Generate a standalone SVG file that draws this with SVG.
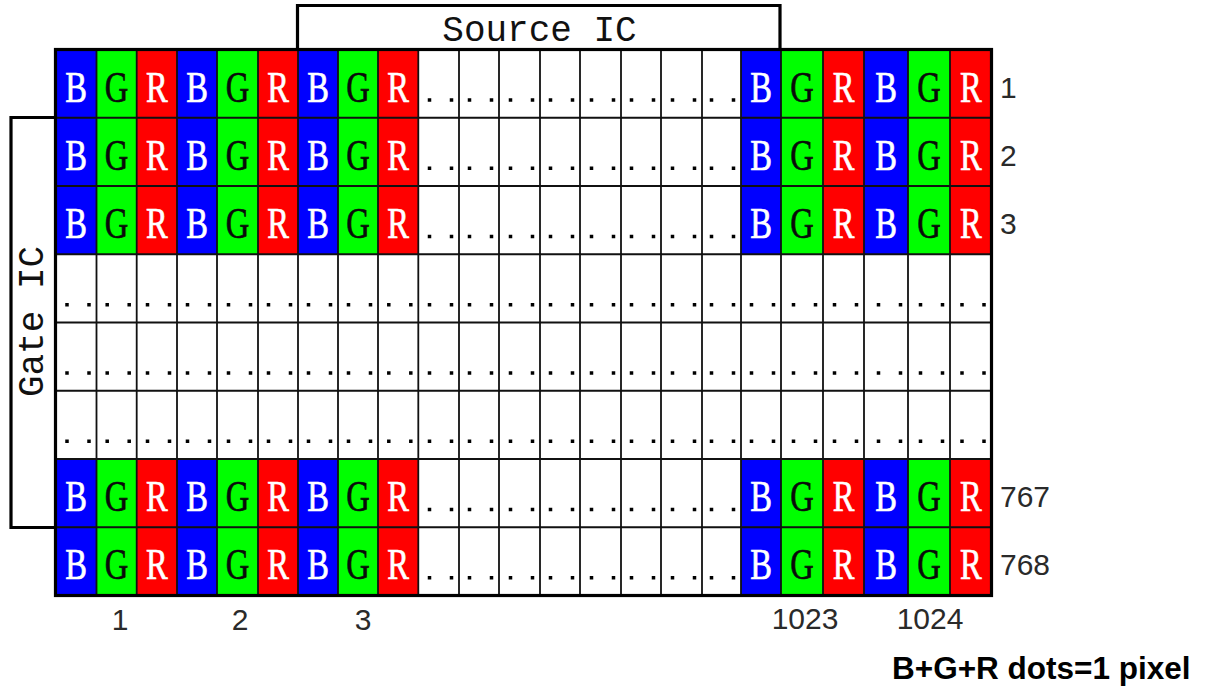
<svg xmlns="http://www.w3.org/2000/svg" xmlns:xlink="http://www.w3.org/1999/xlink" width="1216" height="689" viewBox="0 0 1216 689">
<style>
.b{fill:#0000ff}.g{fill:#00ff00}.r{fill:#ff0000}
.L{font-family:"Liberation Serif","Times New Roman",serif;font-size:44px;text-anchor:middle;stroke-width:0.7}
.lw{fill:#ffffff;stroke:#ffffff}.lk{fill:#0a0a0a;stroke:#0a0a0a}
.grid{fill:none;stroke:#111;stroke-width:1.8}
.thick{fill:none;stroke:#000;stroke-width:3.2}
.mono{font-family:"Liberation Mono","Courier New",monospace;font-size:36px;fill:#111;text-anchor:middle}
.num{font-family:"Liberation Sans",Arial,sans-serif;font-size:30px;fill:#2a2a2a}
.numc{font-family:"Liberation Sans",Arial,sans-serif;font-size:30px;fill:#2a2a2a;text-anchor:middle}
.leg{font-family:"Liberation Sans",Arial,sans-serif;font-size:31.5px;font-weight:bold;fill:#000}
</style>
<defs>
<g id="dp"><rect x="-31.25" y="-1.75" width="3.5" height="3.5" fill="#000"/><rect x="-9.25" y="-1.75" width="3.5" height="3.5" fill="#000"/></g>
<g id="wdots">
<use xlink:href="#dp" x="459"/><use xlink:href="#dp" x="499"/><use xlink:href="#dp" x="540"/><use xlink:href="#dp" x="580"/>
<use xlink:href="#dp" x="621"/><use xlink:href="#dp" x="661"/><use xlink:href="#dp" x="702"/><use xlink:href="#dp" x="741"/>
</g>
<g id="fdots">
<use xlink:href="#dp" x="96.5"/><use xlink:href="#dp" x="136.7"/><use xlink:href="#dp" x="177"/><use xlink:href="#dp" x="217"/>
<use xlink:href="#dp" x="258"/><use xlink:href="#dp" x="298"/><use xlink:href="#dp" x="338"/><use xlink:href="#dp" x="378"/>
<use xlink:href="#dp" x="418.3"/>
<use xlink:href="#wdots"/>
<use xlink:href="#dp" x="781"/><use xlink:href="#dp" x="823"/><use xlink:href="#dp" x="864"/><use xlink:href="#dp" x="908"/>
<use xlink:href="#dp" x="950"/><use xlink:href="#dp" x="991.5"/>
</g>
<g id="rowL" font-family="Liberation Serif, Times New Roman, serif" font-size="44">
<text class="L lw" transform="translate(76,0) scale(0.74,1)">B</text>
<text class="L lk" transform="translate(116.6,0) scale(0.74,1)">G</text>
<text class="L lw" transform="translate(156.9,0) scale(0.74,1)">R</text>
<text class="L lw" transform="translate(197,0) scale(0.74,1)">B</text>
<text class="L lk" transform="translate(237.5,0) scale(0.74,1)">G</text>
<text class="L lw" transform="translate(278,0) scale(0.74,1)">R</text>
<text class="L lw" transform="translate(318,0) scale(0.74,1)">B</text>
<text class="L lk" transform="translate(358,0) scale(0.74,1)">G</text>
<text class="L lw" transform="translate(398.2,0) scale(0.74,1)">R</text>
<text class="L lw" transform="translate(761,0) scale(0.74,1)">B</text>
<text class="L lk" transform="translate(802,0) scale(0.74,1)">G</text>
<text class="L lw" transform="translate(843.5,0) scale(0.74,1)">R</text>
<text class="L lw" transform="translate(886,0) scale(0.74,1)">B</text>
<text class="L lk" transform="translate(929,0) scale(0.74,1)">G</text>
<text class="L lw" transform="translate(970.8,0) scale(0.74,1)">R</text>
</g>
</defs>

<rect width="1216" height="689" fill="#ffffff"/>

<g id="panel">
<g id="fills-top">
<rect class="b" x="55.5" y="49.5" width="41" height="204.75"/>
<rect class="g" x="96.5" y="49.5" width="40.2" height="204.75"/>
<rect class="r" x="136.7" y="49.5" width="40.3" height="204.75"/>
<rect class="b" x="177" y="49.5" width="40" height="204.75"/>
<rect class="g" x="217" y="49.5" width="41" height="204.75"/>
<rect class="r" x="258" y="49.5" width="40" height="204.75"/>
<rect class="b" x="298" y="49.5" width="40" height="204.75"/>
<rect class="g" x="338" y="49.5" width="40" height="204.75"/>
<rect class="r" x="378" y="49.5" width="40.3" height="204.75"/>
<rect class="b" x="741" y="49.5" width="40" height="204.75"/>
<rect class="g" x="781" y="49.5" width="42" height="204.75"/>
<rect class="r" x="823" y="49.5" width="41" height="204.75"/>
<rect class="b" x="864" y="49.5" width="44" height="204.75"/>
<rect class="g" x="908" y="49.5" width="42" height="204.75"/>
<rect class="r" x="950" y="49.5" width="41.5" height="204.75"/>
</g>
<g id="fills-bottom">
<rect class="b" x="55.5" y="459" width="41" height="136.5"/>
<rect class="g" x="96.5" y="459" width="40.2" height="136.5"/>
<rect class="r" x="136.7" y="459" width="40.3" height="136.5"/>
<rect class="b" x="177" y="459" width="40" height="136.5"/>
<rect class="g" x="217" y="459" width="41" height="136.5"/>
<rect class="r" x="258" y="459" width="40" height="136.5"/>
<rect class="b" x="298" y="459" width="40" height="136.5"/>
<rect class="g" x="338" y="459" width="40" height="136.5"/>
<rect class="r" x="378" y="459" width="40.3" height="136.5"/>
<rect class="b" x="741" y="459" width="40" height="136.5"/>
<rect class="g" x="781" y="459" width="42" height="136.5"/>
<rect class="r" x="823" y="459" width="41" height="136.5"/>
<rect class="b" x="864" y="459" width="44" height="136.5"/>
<rect class="g" x="908" y="459" width="42" height="136.5"/>
<rect class="r" x="950" y="459" width="41.5" height="136.5"/>
</g>
<path class="grid" d="M96.5,49.5V595.5M136.7,49.5V595.5M177,49.5V595.5M217,49.5V595.5M258,49.5V595.5M298,49.5V595.5M338,49.5V595.5M378,49.5V595.5M418.3,49.5V595.5M459,49.5V595.5M499,49.5V595.5M540,49.5V595.5M580,49.5V595.5M621,49.5V595.5M661,49.5V595.5M702,49.5V595.5M741,49.5V595.5M781,49.5V595.5M823,49.5V595.5M864,49.5V595.5M908,49.5V595.5M950,49.5V595.5
M55.5,117.75H991.5M55.5,186H991.5M55.5,254.25H991.5M55.5,322.5H991.5M55.5,390.75H991.5M55.5,459H991.5M55.5,527.25H991.5"/>
<rect class="thick" x="55.5" y="49.5" width="936" height="546"/>
<g id="letters">
<use xlink:href="#rowL" y="101.5"/>
<use xlink:href="#rowL" y="169.5"/>
<use xlink:href="#rowL" y="237.5"/>
<use xlink:href="#rowL" y="510.5"/>
<use xlink:href="#rowL" y="578.5"/>
</g>
<g id="dots">
<use xlink:href="#wdots" y="100"/>
<use xlink:href="#wdots" y="168.25"/>
<use xlink:href="#wdots" y="236.5"/>
<use xlink:href="#fdots" y="304.75"/>
<use xlink:href="#fdots" y="373"/>
<use xlink:href="#fdots" y="441.25"/>
<use xlink:href="#wdots" y="509.5"/>
<use xlink:href="#wdots" y="577.75"/>
</g>
</g>

<g id="source-ic">
<path class="thick" d="M297.5,49.5V5.5H780V49.5"/>
<text class="mono" x="539.5" y="41">Source IC</text>
</g>

<g id="gate-ic">
<path class="thick" d="M55.5,117.5H11V527.5H55.5"/>
<text class="mono" transform="translate(43,321.5) rotate(-90)">Gate IC</text>
</g>

<g id="row-labels">
<text class="num" x="1000" y="98">1</text>
<text class="num" x="1000" y="166">2</text>
<text class="num" x="1000" y="234">3</text>
<text class="num" x="1000" y="507">767</text>
<text class="num" x="1000" y="575">768</text>
</g>

<g id="col-labels">
<text class="numc" x="120" y="630">1</text>
<text class="numc" x="240" y="630">2</text>
<text class="numc" x="363" y="630">3</text>
<text class="numc" x="805" y="629">1023</text>
<text class="numc" x="930" y="629">1024</text>
</g>

<g id="legend">
<text class="leg" x="892" y="679">B+G+R dots=1 pixel</text>
</g>
<g id="connectors"/>
</svg>
